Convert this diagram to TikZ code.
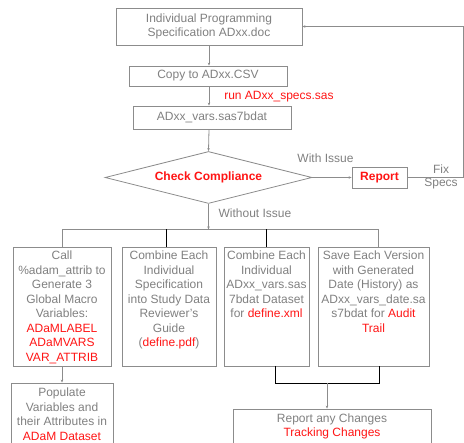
\documentclass[tikz,border=0pt]{standalone}
\usepackage{fontspec}
\setmainfont{Liberation Sans}
\usetikzlibrary{shapes.geometric,arrows.meta}
\definecolor{tg}{RGB}{128,128,128}
\definecolor{bg}{RGB}{140,140,140}
\definecolor{rd}{RGB}{255,20,20}
\begin{document}
\begin{tikzpicture}[x=1pt,y=-1pt,
 font=\fontsize{12}{14.5}\selectfont,
 box/.style={draw=bg, line width=0.8pt, inner sep=0pt, align=center, text=tg},
 txt/.style={align=center, inner sep=0pt, text=tg},
 rtxt/.style={align=center, inner sep=0pt, text=rd},
 conn/.style={draw=bg, line width=0.8pt},
 arr/.style={conn, -{Stealth[length=3pt,width=2.5pt]}},
 blk/.style={draw=black, line width=0.9pt},
 ]
\useasboundingbox (0,0) rectangle (464,443);
% top chain
\node[box, minimum width=186pt, minimum height=37pt] (spec) at (209,26.5) {Individual Programming\\Specification ADxx.doc};
\node[box, minimum width=158pt, minimum height=20pt] (copy) at (208,76) {Copy to ADxx.CSV};
\node[box, minimum width=158pt, minimum height=23pt] (vars) at (212,117.5) {ADxx\_vars.sas7bdat};
\node[rtxt] (run) at (279,97) {run ADxx\_specs.sas};
\node[diamond, draw=bg, line width=0.8pt, aspect=4, minimum width=207pt, minimum height=52pt, inner sep=0pt, text=rd, font=\fontsize{12}{14.5}\selectfont\bfseries] (chk) at (208.5,177.5) {Check Compliance};
\node[box, minimum width=55pt, minimum height=21pt, text=rd, font=\fontsize{12}{14.5}\selectfont\bfseries] (rep) at (379.5,177.5) {Report};
\node[txt] (with) at (325.5,158) {With Issue};
\node[txt] (without) at (255,213) {Without Issue};
\node[txt] (fix) at (441,169) {Fix};
\node[txt] (specs) at (441,184) {Specs};

\draw[arr] (spec.south -| 209,0) -- (copy.north -| 209,0);
\draw[arr] (copy.south -| 209,0) -- (vars.north -| 209,0);
\draw[arr] (vars.south -| 209,0) -- (chk.north);
\draw[arr] (chk.east) -- (rep.west);
\coordinate (fr) at (463,177.5);
\coordinate (fu) at (463,26.5);
\draw[arr] (rep.east) -- (fr) -- (fu) -- (spec.east);

% bus
\coordinate (bus) at (208.5,229.5);
\coordinate (bl) at (62,229.5);
\coordinate (br) at (378,229.5);
\coordinate (d2) at (166,229.5);
\coordinate (d3) at (266,229.5);
\draw[arr] (chk.south) -- (bus);
\draw[conn] (bl) -- (br);

% row boxes
\node[box, minimum width=98pt, minimum height=119pt] (b1) at (62,306.5) {};
\node[box, minimum width=94pt, minimum height=119pt] (b2) at (169,306.5) {};
\node[box, minimum width=85pt, minimum height=119pt] (b3) at (266.5,306.5) {};
\node[box, minimum width=111pt, minimum height=119pt] (b4) at (373.5,306.5) {};

\node[txt, anchor=north] (t1) at (62,251) {Call\\\%adam\_attrib to\\Generate 3\\Global Macro\\Variables:\\\textcolor{rd}{ADaMLABEL}\\\textcolor{rd}{ADaMVARS}\\\textcolor{rd}{VAR\_ATTRIB}};
\node[txt, anchor=north] (t2) at (169,251) {Combine Each\\Individual\\Specification\\into Study Data\\Reviewer's\\Guide\\(\textcolor{rd}{define.pdf})};
\node[txt, anchor=north] (t3) at (266.5,251) {Combine Each\\Individual\\ADxx\_vars.sas\\7bdat Dataset\\for \textcolor{rd}{define.xml}};
\node[txt, anchor=north] (t4) at (373.5,251) {Save Each Version\\with Generated\\Date (History) as\\ADxx\_vars\_date.sa\\s7bdat for \textcolor{rd}{Audit}\\\textcolor{rd}{Trail}};

\draw[conn] (bl) -- (b1.north);
\draw[blk] (d2) -- (d2 |- b2.north);
\draw[blk] (d3) -- (d3 |- b3.north);
\draw[conn] (br) -- (br |- b4.north);

% bottom boxes
\node[box, minimum width=102pt, minimum height=67pt] (b5) at (62,416.5) {};
\node[txt, anchor=north] (t5) at (62,388) {Populate\\Variables and\\their Attributes in\\\textcolor{rd}{ADaM Dataset}};
\draw[arr] (b1.south) -- (b5.north);

\node[box, minimum width=198pt, minimum height=41pt] (b6) at (332,429.5) {};
\node[txt, anchor=north] (t6) at (332,413.5) {Report any Changes\\\textcolor{rd}{Tracking Changes}};

\coordinate (j3) at (275,366);
\coordinate (j3b) at (275,383);
\coordinate (j4b) at (379,383);
\coordinate (j4) at (379,366);
\coordinate (jm) at (327,383);
\draw[blk] (j3) -- (j3b) -- (j4b) -- (j4);
\draw[arr] (jm) -- (jm |- b6.north);
\end{tikzpicture}
\end{document}
